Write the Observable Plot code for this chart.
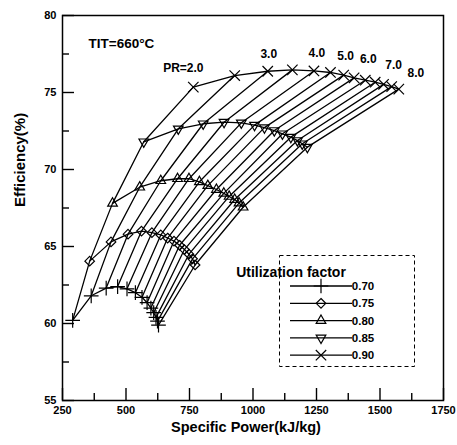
<!DOCTYPE html>
<html>
<head>
<meta charset="utf-8">
<script src="https://cdn.jsdelivr.net/npm/d3@7"></script>
<script src="https://cdn.jsdelivr.net/npm/@observablehq/plot@0.6"></script>
<style>
  html, body { margin: 0; padding: 0; background: #fff; }
  #chart svg { display: block; }
</style>
</head>
<body>
<div id="chart"></div>
<script>
// Pressure ratios along each utilization-factor curve
const pressureRatios = [2.0, 2.5, 3.0, 3.5, 4.0, 4.5, 5.0, 5.5, 6.0, 6.5, 7.0, 7.5, 8.0];
const utilizationFactors = [0.70, 0.75, 0.80, 0.85, 0.90];
const factorLabels = ["0.70", "0.75", "0.80", "0.85", "0.90"];

// Specific power (kJ/kg) and efficiency (%) per utilization factor
const power070 = [290, 363, 422, 467, 504, 537, 563, 583, 598, 609, 618, 624, 628];
const eff070   = [60.2, 61.8, 62.3, 62.4, 62.25, 62.0, 61.7, 61.35, 61.0, 60.7, 60.4, 60.15, 59.9];
const power075 = [357, 441, 508, 561, 602, 637, 664, 689, 711, 730, 748, 762, 772];
const eff075   = [64.05, 65.3, 65.8, 66.0, 65.9, 65.75, 65.55, 65.35, 65.08, 64.8, 64.5, 64.2, 63.8];
const power080 = [447, 554, 637, 703, 748, 789, 822, 856, 885, 906, 928, 945, 961];
const eff080   = [67.8, 68.85, 69.27, 69.4, 69.4, 69.2, 68.95, 68.7, 68.45, 68.25, 68.05, 67.82, 67.55];
const power085 = [570, 706, 804, 886, 954, 1006, 1045, 1084, 1116, 1149, 1175, 1194, 1214];
const eff085   = [71.8, 72.64, 72.97, 73.07, 73.03, 72.88, 72.72, 72.53, 72.32, 72.1, 71.88, 71.67, 71.45];
const power090 = [765, 928, 1058, 1155, 1240, 1305, 1357, 1398, 1442, 1481, 1514, 1546, 1574];
const eff090   = [75.35, 76.1, 76.38, 76.47, 76.4, 76.3, 76.13, 75.95, 75.8, 75.67, 75.53, 75.38, 75.22];

// Pressure-ratio labels along the 0.90 curve
const prLabelValues = [2.0, 3.0, 4.0, 5.0, 6.0, 7.0, 8.0];
const prLabelTexts  = ["PR=2.0", "3.0", "4.0", "5.0", "6.0", "7.0", "8.0"];

// Axis ticks
const xTickLabels = [250, 500, 750, 1000, 1250, 1500, 1750];
const xMinorTicks = [375, 625, 875, 1125, 1375, 1625];
const yTickLabels = [55, 60, 65, 70, 75, 80];
const yMinorTicks = [57.5, 62.5, 67.5, 72.5, 77.5];

const powers = [power070, power075, power080, power085, power090];
const effs = [eff070, eff075, eff080, eff085, eff090];

const rows = [];
utilizationFactors.forEach((uf, i) => {
  pressureRatios.forEach((pr, j) => {
    rows.push({uf, pr, power: powers[i][j], eff: effs[i][j]});
  });
});

// Hollow downward triangle
const triangleDown = {
  draw(context, size) {
    const s = Math.sqrt(size) * 0.6824, t = s / 2, u = s * Math.sqrt(3) / 2;
    context.moveTo(0, s);
    context.lineTo(-u, -t);
    context.lineTo(u, -t);
    context.closePath();
  }
};
const symbols = [d3.symbolPlus, d3.symbolDiamond2, d3.symbolTriangle2, triangleDown, d3.symbolTimes];
const radii = [4.8, 4.3, 4.6, 4.6, 4.8];

const W = 457, H = 445;
const mL = 62, mR = 14, mT = 15, mB = 45;
const frameW = W - mL - mR, frameH = H - mT - mB;
const font = "'Liberation Sans', Arial, Helvetica, sans-serif";

// nudges for the pressure-ratio labels [dx, dy]
const prNudge = [[-10, -19], [1, -17], [3, -18], [2, -19], [3, -21], [10, -19], [17, -16]];

const top90 = rows.filter(d => d.uf === 0.90);

const plot = Plot.plot({
  width: W, height: H,
  marginLeft: mL, marginRight: mR, marginTop: mT, marginBottom: mB,
  style: {fontFamily: font, fontWeight: "bold", fontSize: "11px", color: "#000", background: "#fff"},
  x: {domain: [250, 1750]},
  y: {domain: [55, 80]},
  marks: [
    Plot.frame({stroke: "#000", strokeWidth: 1.5}),
    // inward tick marks
    Plot.ruleX(xTickLabels, {x: d => d, insetTop: frameH - 12, stroke: "#000", strokeWidth: 1.4}),
    Plot.ruleX(xMinorTicks, {x: d => d, insetTop: frameH - 7, stroke: "#000", strokeWidth: 1.4}),
    Plot.ruleY(yTickLabels, {y: d => d, insetRight: frameW - 12, stroke: "#000", strokeWidth: 1.4}),
    Plot.ruleY(yMinorTicks, {y: d => d, insetRight: frameW - 7, stroke: "#000", strokeWidth: 1.4}),
    Plot.axisX({ticks: xTickLabels, tickSize: 0, tickPadding: 6, tickFormat: d => String(d), label: null, fontSize: 11}),
    Plot.axisY({ticks: yTickLabels, tickSize: 0, tickPadding: 6, tickFormat: d => String(d), label: null, fontSize: 11}),
    // constant pressure-ratio lines across utilization factors
    Plot.line(rows, {x: "power", y: "eff", z: "pr", stroke: "#000", strokeWidth: 1.3}),
    // constant utilization-factor curves
    Plot.line(rows, {x: "power", y: "eff", z: "uf", stroke: "#000", strokeWidth: 1.3}),
    ...utilizationFactors.map((uf, i) =>
      Plot.dot(rows.filter(d => d.uf === uf), {
        x: "power", y: "eff", symbol: symbols[i], r: radii[i],
        stroke: "#000", strokeWidth: 1.2, fill: "none"
      })
    ),
    ...prLabelValues.map((pr, i) =>
      Plot.text(top90.filter(d => d.pr === pr), {
        x: "power", y: "eff", text: () => prLabelTexts[i],
        dx: prNudge[i][0], dy: prNudge[i][1], fontSize: 12, fontWeight: "bold"
      })
    ),
    Plot.text(["TIT=660°C"], {frameAnchor: "top-left", text: d => d, dx: 26, dy: 23, fontSize: 13.5, fontWeight: "bold", textAnchor: "start"}),
    Plot.text(["Specific Power(kJ/kg)"], {frameAnchor: "bottom", text: d => d, dx: -7, dy: 31, fontSize: 14.5, fontWeight: "bold"}),
    Plot.text(["Efficiency(%)"], {frameAnchor: "left", text: d => d, dx: -42, dy: -1, rotate: -90, fontSize: 15, fontWeight: "bold"})
  ]
});

document.getElementById("chart").appendChild(plot);

// Legend box
const svg = d3.select(plot);
const lg = svg.append("g").attr("font-family", font).attr("font-weight", "bold");
lg.append("rect")
  .attr("x", 279.5).attr("y", 255.5).attr("width", 135).attr("height", 111)
  .attr("fill", "#fff").attr("stroke", "#000").attr("stroke-width", 1)
  .attr("stroke-dasharray", "4,3");
lg.append("text").attr("x", 291).attr("y", 272).attr("dy", "0.35em")
  .attr("font-size", 14).text("Utilization factor");
factorLabels.forEach((label, i) => {
  const y = 286 + i * 17.3;
  lg.append("line").attr("x1", 290).attr("x2", 352).attr("y1", y).attr("y2", y)
    .attr("stroke", "#000").attr("stroke-width", 1.3);
  lg.append("path")
    .attr("transform", `translate(321,${y})`)
    .attr("d", d3.symbol(symbols[i], Math.PI * radii[i] * radii[i])())
    .attr("fill", "none").attr("stroke", "#000").attr("stroke-width", 1.2);
  lg.append("text").attr("x", 363).attr("y", y).attr("dy", "0.35em")
    .attr("font-size", 11.5).text(label);
});
</script>
</body>
</html>
